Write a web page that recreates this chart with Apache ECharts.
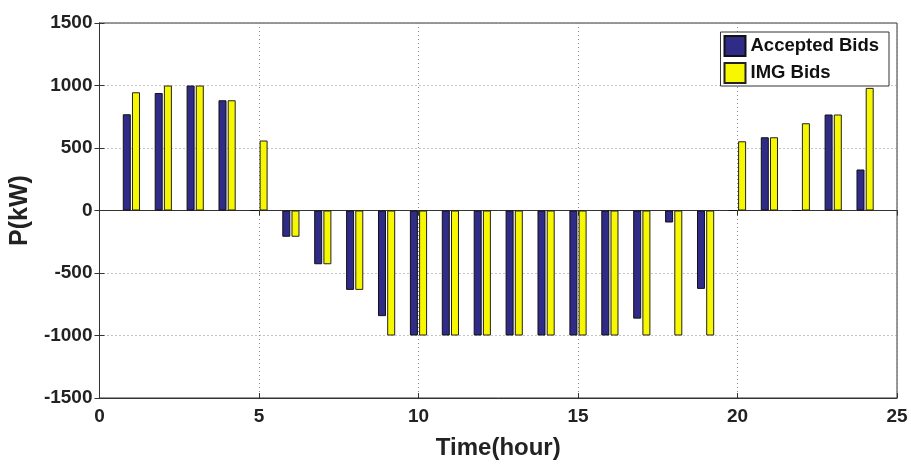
<!DOCTYPE html>
<html>
<head>
<meta charset="utf-8">
<script src="https://cdn.jsdelivr.net/npm/echarts@6/dist/echarts.min.js"></script>
<style>html,body{margin:0;padding:0;background:#fff;}#c{width:911px;height:466px;}</style>
</head>
<body>
<div id="c"></div>
<script>
const hours = [1,2,3,4,5,6,7,8,9,10,11,12,13,14,15,16,17,18,19,20,21,22,23,24];
const acceptedBids = [770,940,1000,882,0,-210,-430,-635,-845,-1000,-1000,-1000,-1000,-1000,-1000,-1000,-865,-96,-627,0,586,0,768,328];
const imgBids = [946,1000,1000,882,560,-210,-430,-635,-1000,-1000,-1000,-1000,-1000,-1000,-1000,-1000,-1000,-1000,-1000,554,586,698,768,981];
const xTicks = {min:0, max:25, interval:5};
const yTicks = {min:-1500, max:1500, interval:500};

const chart = echarts.init(document.getElementById('c'));
const labelFont = {fontFamily:'Liberation Sans, Arial', fontWeight:'bold', fontSize:19, color:'#222'};
const gridLine = {show:true, lineStyle:{color:'#8a8a8a', type:[1,3], width:1}};
chart.setOption({
  animation:false,
  backgroundColor:'#fff',
  grid:{left:99, right:14, top:23, bottom:68, show:true, borderColor:'#333', borderWidth:1, backgroundColor:'#fff'},
  legend:{
    right:22, top:32, orient:'vertical', itemWidth:21, itemHeight:20, itemGap:5, icon:'rect',
    padding:[3,10,2,3], borderColor:'#333', borderWidth:1, backgroundColor:'#fff',
    textStyle:{fontFamily:'Liberation Sans, Arial', fontWeight:'bold', fontSize:18.5, color:'#111', padding:[0,0,0,0]},
    data:['Accepted Bids','IMG Bids']
  },
  xAxis:[{
    type:'value', min:xTicks.min, max:xTicks.max, interval:xTicks.interval,
    name:'Time(hour)', nameLocation:'middle', nameGap:38,
    nameTextStyle:{fontFamily:'Liberation Sans, Arial', fontWeight:'bold', fontSize:24, color:'#222'},
    axisLine:{show:true, onZero:false, lineStyle:{color:'#333'}},
    axisTick:{show:true, inside:true, length:5, lineStyle:{color:'#333'}},
    axisLabel:Object.assign({margin:9}, labelFont),
    splitLine:gridLine
  },{
    type:'value', position:'top', min:xTicks.min, max:xTicks.max, interval:xTicks.interval,
    axisLine:{show:true, lineStyle:{color:'#333'}},
    axisTick:{show:true, inside:true, length:5, lineStyle:{color:'#333'}},
    axisLabel:{show:false}, splitLine:{show:false}
  }],
  yAxis:[{
    type:'value', min:yTicks.min, max:yTicks.max, interval:yTicks.interval,
    name:'P(kW)', nameLocation:'middle', nameGap:62, nameRotate:90,
    nameTextStyle:{fontFamily:'Liberation Sans, Arial', fontWeight:'bold', fontSize:25, color:'#222'},
    axisLine:{show:true, lineStyle:{color:'#333'}},
    axisTick:{show:true, inside:true, length:5, lineStyle:{color:'#333'}},
    axisLabel:Object.assign({margin:7, formatter:v=>String(v)}, labelFont),
    splitLine:gridLine
  },{
    type:'value', position:'right', min:yTicks.min, max:yTicks.max, interval:yTicks.interval,
    axisLine:{show:true, lineStyle:{color:'#333'}},
    axisTick:{show:true, inside:true, length:5, lineStyle:{color:'#333'}},
    axisLabel:{show:false}, splitLine:{show:false}
  }],
  series:[{
    name:'Accepted Bids', type:'bar', barWidth:8, barGap:'15%',
    itemStyle:{color:'#302b86', borderColor:'#111', borderWidth:1},
    data:hours.map((h,i)=>[h, acceptedBids[i]])
  },{
    name:'IMG Bids', type:'bar', barWidth:8, barGap:'15%',
    itemStyle:{color:'#f7f700', borderColor:'#222', borderWidth:1},
    data:hours.map((h,i)=>[h, imgBids[i]])
  }]
});
</script>
</body>
</html>
